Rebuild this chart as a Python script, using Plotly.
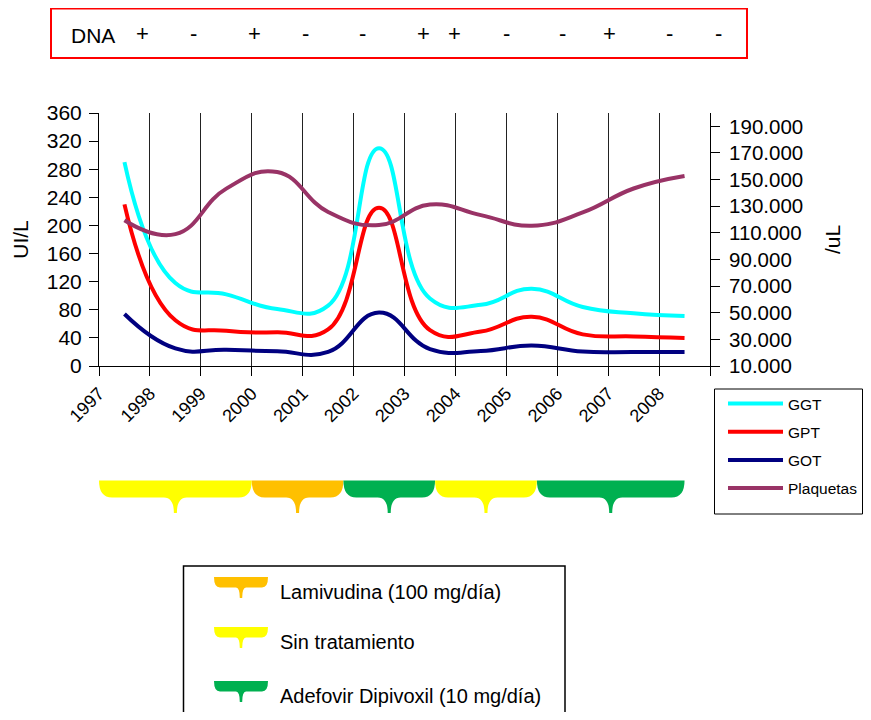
import plotly.graph_objects as go

# ---------------- data ----------------
YEARS = [1997, 1998, 1999, 2000, 2001, 2002, 2003, 2004, 2005, 2006, 2007, 2008]
GGT = [290, 118, 102, 81, 86, 310, 96, 87, 110, 84, 75, 71]
GPT = [230, 65, 50, 48, 52, 225, 51, 49, 70, 45, 42, 40]
GOT = [74, 25, 23, 21, 20, 76, 24, 21.5, 29, 20.5, 20, 20]
PLAQUETAS = [119500, 109000, 143200, 155700, 125700, 115800, 131200, 123300,
             115300, 125300, 143300, 152700]

LEFT_TICKS = [0, 40, 80, 120, 160, 200, 240, 280, 320, 360]
RIGHT_TICKS = [10000, 30000, 50000, 70000, 90000, 110000, 130000, 150000, 170000, 190000]

DNA_SIGNS = ["+", "-", "+", "-", "-", "+", "+", "-", "-", "+", "-", "-"]

TREAT_START = [1997.0, 2000.0, 2001.8, 2003.6, 2005.6]
TREAT_END = [2000.0, 2001.8, 2003.6, 2005.6, 2008.5]
TREAT_KIND = ["Sin tratamiento", "Lamivudina (100 mg/día)",
              "Adefovir Dipivoxil (10 mg/día)", "Sin tratamiento",
              "Adefovir Dipivoxil (10 mg/día)"]
TREAT_LEGEND = ["Lamivudina (100 mg/día)", "Sin tratamiento",
                "Adefovir Dipivoxil (10 mg/día)"]

# ---------------- styles / layout ----------------
FONT = "Liberation Sans, Arial, sans-serif"
TREAT_COLOR = {"Sin tratamiento": "#FFFF00",
               "Lamivudina (100 mg/día)": "#FFC000",
               "Adefovir Dipivoxil (10 mg/día)": "#00B050"}

OFF = 8  # page body margin of the browser
W, H = 860, 704
ML, MT = 99 - OFF, 113 - OFF
MR = W - (710 - OFF)
MB = H - (366 - OFF)
PW, PH = W - ML - MR, H - MT - MB
XMIN, XMAX = 1997, 2009
PX_PER_YEAR = PW / (XMAX - XMIN)


def px_x(px):
    return (px - OFF - ML) / PW


def px_y(py):
    return (H - MB - (py - OFF)) / PH


def brace_path(x0, x1, yt, yb, ys, r, s, t, sx):
    """Brace shape; x in axis units (sx px per unit), y in paper units."""
    xc = (x0 + x1) / 2
    r, s, t = r / sx, s / sx, t / sx
    return (f"M {x0},{yt} L {x1},{yt} Q {x1},{yb} {x1 - r},{yb} "
            f"L {xc + s},{yb} Q {xc + t},{yb} {xc + t},{ys} "
            f"L {xc - t},{ys} Q {xc - t},{yb} {xc - s},{yb} "
            f"L {x0 + r},{yb} Q {x0},{yb} {x0},{yt} Z")


xs = [y + 0.5 for y in YEARS]

fig = go.Figure()
series = [("GGT", GGT, "#00FFFF", "y"), ("GPT", GPT, "#FF0000", "y"),
          ("GOT", GOT, "#000080", "y"), ("Plaquetas", PLAQUETAS, "#993366", "y2")]
for i, (name, vals, col, ax) in enumerate(series):
    fig.add_trace(go.Scatter(x=xs, y=vals, name=name, yaxis=ax, mode="lines",
                             line=dict(color=col, width=4, shape="spline", smoothing=1.3),
                             legendgroup=f"g{i}"))

shapes = []
for a, b, k in zip(TREAT_START, TREAT_END, TREAT_KIND):
    shapes.append(dict(type="path", xref="x", yref="paper",
                       path=brace_path(a, b, px_y(480.5), px_y(497.5), px_y(513),
                                       13, 11.5, 1.5, PX_PER_YEAR),
                       fillcolor=TREAT_COLOR[k], line=dict(width=0), layer="above"))

# DNA box
shapes.append(dict(type="rect", xref="paper", yref="paper",
                   x0=px_x(51), x1=px_x(747), y0=px_y(58), y1=px_y(8.5),
                   line=dict(color="#FF0000", width=2), fillcolor="rgba(0,0,0,0)"))

# series legend frame
shapes.append(dict(type="rect", xref="paper", yref="paper",
                   x0=px_x(714.5), x1=px_x(862.5), y0=px_y(514), y1=px_y(389),
                   line=dict(color="#000000", width=1), fillcolor="rgba(0,0,0,0)"))

# treatment legend box
shapes.append(dict(type="rect", xref="paper", yref="paper",
                   x0=px_x(183.5), x1=px_x(565), y0=px_y(740), y1=px_y(566),
                   line=dict(color="#000000", width=1.5), fillcolor="rgba(0,0,0,0)"))

annotations = []
annotations.append(dict(text="DNA", xref="paper", yref="paper", x=px_x(93), y=px_y(35),
                        showarrow=False, font=dict(size=21, color="black", family=FONT),
                        xanchor="center", yanchor="middle"))
DNA_X_PX = [142, 193, 254, 305, 362, 423, 454, 506, 562, 609, 669, 718]
for sgn, xp in zip(DNA_SIGNS, DNA_X_PX):
    annotations.append(dict(text=sgn, xref="paper", yref="paper", x=px_x(xp), y=px_y(33),
                            showarrow=False, font=dict(size=22, color="black", family=FONT),
                            xanchor="center", yanchor="middle"))

ICON_TOP = [577, 627, 681]
for k, top in zip(TREAT_LEGEND, ICON_TOP):
    x0, x1 = px_x(214), px_x(268)
    shapes.append(dict(type="path", xref="paper", yref="paper",
                       path=brace_path(x0, x1, px_y(top), px_y(top + 10.5), px_y(top + 21),
                                       6, 5, 1.2, PW),
                       fillcolor=TREAT_COLOR[k], line=dict(width=0)))
    annotations.append(dict(text=k, xref="paper", yref="paper", x=px_x(278), y=px_y(top + 15),
                            showarrow=False, xanchor="left", yanchor="middle",
                            font=dict(size=20, color="black", family=FONT)))

fig.update_layout(
    width=W, height=H,
    margin=dict(l=ML, r=MR, t=MT, b=MB, autoexpand=False),
    paper_bgcolor="white", plot_bgcolor="white",
    font=dict(family=FONT, color="black"),
    showlegend=True,
    legend=dict(x=px_x(714), y=px_y(387), xanchor="left", yanchor="top",
                borderwidth=0, bgcolor="rgba(0,0,0,0)",
                font=dict(size=15.5, family=FONT), tracegroupgap=5, itemwidth=55,
                indentation=9),
    xaxis=dict(range=[XMIN, XMAX], tickmode="array",
               tickvals=YEARS + [XMAX], ticktext=[str(y) for y in YEARS] + [""],
               tickangle=-45, tickfont=dict(size=18), ticks="outside", ticklen=9,
               tickcolor="black", showline=True, linecolor="black", linewidth=1,
               showgrid=True, gridcolor="#222222", gridwidth=1, zeroline=False),
    yaxis=dict(range=[0, 360], tickmode="array", tickvals=LEFT_TICKS,
               tickfont=dict(size=21), ticks="outside", ticklen=9, tickcolor="black",
               ticklabelstandoff=3,
               showline=True, linecolor="black", linewidth=1, showgrid=False,
               zeroline=False, title=dict(text="UI/L", font=dict(size=21), standoff=12)),
    yaxis2=dict(range=[10000, 200000], overlaying="y", side="right", anchor="x",
                tickmode="array", tickvals=RIGHT_TICKS,
                ticktext=[f"{v:,}".replace(",", ".") for v in RIGHT_TICKS],
                tickfont=dict(size=20.5), ticks="outside", ticklen=9, tickcolor="black",
                ticklabelstandoff=5,
                showline=True, linecolor="black", linewidth=1, showgrid=False,
                zeroline=False, title=dict(text="/uL", font=dict(size=21), standoff=23)),
    yaxis3=dict(range=[10000, 200000], overlaying="y", side="right", anchor="x",
                tickmode="array", tickvals=RIGHT_TICKS, showticklabels=False,
                ticks="inside", ticklen=9, tickcolor="black", showline=False,
                showgrid=False, zeroline=False),
    shapes=shapes, annotations=annotations,
)

fig.write_html("out.html")
